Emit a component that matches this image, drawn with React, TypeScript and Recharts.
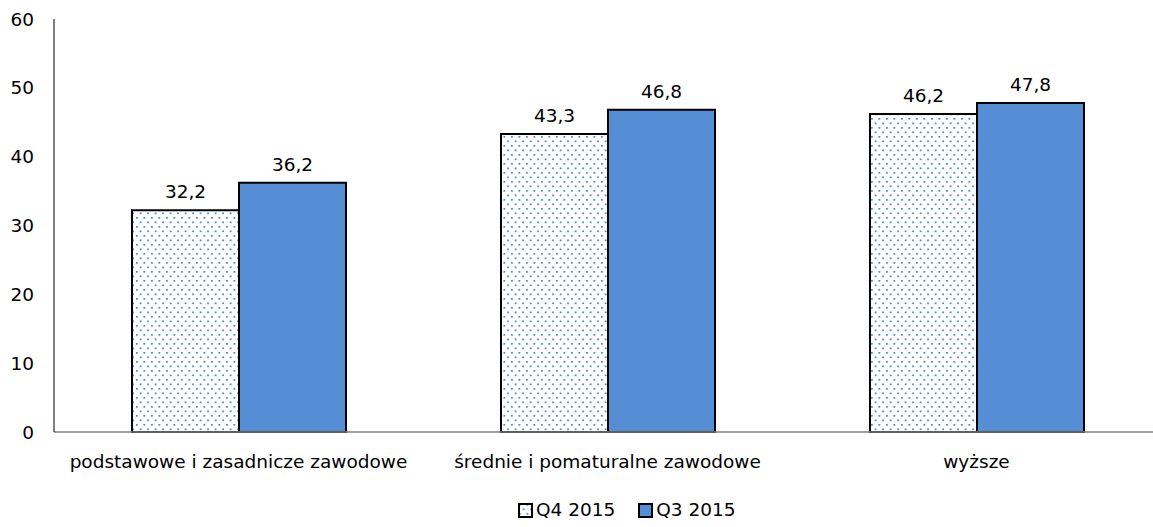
import React from "react";
import { BarChart, Bar, XAxis, YAxis, LabelList } from "recharts";

const categories = ["podstawowe i zasadnicze zawodowe", "średnie i pomaturalne zawodowe", "wyższe"];
const q4_2015 = [32.2, 43.3, 46.2];
const q3_2015 = [36.2, 46.8, 47.8];
const yTicks = [0, 10, 20, 30, 40, 50, 60];

const data = categories.map((name, i) => ({ name, q4: q4_2015[i], q3: q3_2015[i] }));

const FONT = "'DejaVu Sans', Tahoma, sans-serif";
const FS = 18.5;
const BLUE = "#558ED5";
const DOT = "#3F7FD6";

const fmt = (v: any) => Number(v).toFixed(1).replace(".", ",");

function DotPattern() {
  return (
    <pattern id="dots" width={7.5} height={9} patternUnits="userSpaceOnUse">
      <rect width={7.5} height={9} fill="#fff" />
      <rect x={1} y={1} width={1.7} height={1.7} fill={DOT} />
      <rect x={4.75} y={5.5} width={1.7} height={1.7} fill={DOT} />
    </pattern>
  );
}

function LegendBox() {
  const item = (fill: string, label: string) => (
    <span style={{ display: "inline-flex", alignItems: "center", marginRight: 23 }}>
      <svg width={15} height={15} style={{ marginRight: 3 }}>
        <rect x={1} y={1} width={13} height={13} fill={fill} stroke="#000" strokeWidth={2} />
      </svg>
      <span>{label}</span>
    </span>
  );
  return (
    <div style={{ position: "absolute", left: 518, top: 498, fontFamily: FONT, fontSize: FS, color: "#000", whiteSpace: "nowrap", lineHeight: "24px" }}>
      {item("url(#dots)", "Q4 2015")}
      {item(BLUE, "Q3 2015")}
    </div>
  );
}

export default function App() {
  return (
    <div style={{ position: "absolute", left: 0, top: 0, width: 1153, height: 527, overflow: "hidden", background: "#fff" }}>
      <svg width={0} height={0} style={{ position: "absolute" }}>
        <defs>
          <DotPattern />
        </defs>
      </svg>
      <BarChart
        width={1165}
        height={527}
        data={data}
        margin={{ top: 19, right: 4, left: 0, bottom: 65 }}
        barGap={0}
        barCategoryGap={78}
      >
        <XAxis
          dataKey="name"
          height={30}
          axisLine={{ stroke: "#7f7f7f", strokeWidth: 1.5 }}
          tickLine={false}
          tick={{ fill: "#000", fontFamily: FONT, fontSize: FS }}
          tickMargin={17}
          interval={0}
        />
        <YAxis
          width={54}
          domain={[0, 60]}
          ticks={yTicks}
          axisLine={{ stroke: "#000", strokeWidth: 1 }}
          tickLine={false}
          tick={{ fill: "#000", fontFamily: FONT, fontSize: FS }}
          tickMargin={14}
        />
        <Bar dataKey="q4" fill="url(#dots)" stroke="#000" strokeWidth={2} isAnimationActive={false}>
          <LabelList dataKey="q4" position="top" offset={12} formatter={fmt} style={{ fill: "#000", fontFamily: FONT, fontSize: FS }} />
        </Bar>
        <Bar dataKey="q3" fill={BLUE} stroke="#000" strokeWidth={2} isAnimationActive={false}>
          <LabelList dataKey="q3" position="top" offset={12} formatter={fmt} style={{ fill: "#000", fontFamily: FONT, fontSize: FS }} />
        </Bar>
      </BarChart>
      <LegendBox />
    </div>
  );
}
